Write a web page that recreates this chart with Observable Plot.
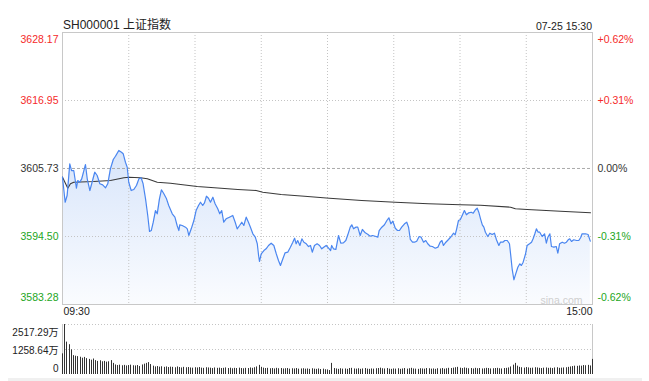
<!DOCTYPE html>
<html><head><meta charset="utf-8">
<script src="https://cdn.jsdelivr.net/npm/d3@7"></script>
<script src="https://cdn.jsdelivr.net/npm/@observablehq/plot@0.6"></script>
<style>
body{margin:0;background:#fff;}
#wrap{position:relative;width:649px;height:381px;overflow:hidden;font-family:"Liberation Sans",Arial,"Noto Sans CJK SC",sans-serif;}
.t{position:absolute;white-space:nowrap;color:#222;line-height:1;}
#main,#vol{position:absolute;left:0;}
#main{top:0;}
#vol{top:316px;}
#band{position:absolute;left:8px;top:378px;width:634px;height:3px;background:#f0f0f0;}
</style></head><body><div id="wrap"><div id="main"></div><div id="vol"></div><div id="band"></div></div>
<script>
const title = "SH000001 上证指数";
const stamp = "07-25 15:30";
const prevClose = 3605.73;
const leftTicks = [3628.17, 3616.95, 3605.73, 3594.50, 3583.28];
const rightTicks = ["+0.62%", "+0.31%", "0.00%", "-0.31%", "-0.62%"];
const timeLabels = ["09:30", "15:00"];
const volTicks = [2517.29, 1258.64, 0];
const volTickLabels = ["2517.29万", "1258.64万", "0"];
const halfHours = [30, 60, 90, 120, 150, 180, 210];

const priceMin = [
0,1.2,2.1,3.3,4.1,5.1,6.3,6.9,7.8,8.7,
10.4,11.2,12.4,13.4,14.6,15.7,16.9,18.2,19.5,20.5,
21.7,23.0,24.0,25.5,26.7,27.5,28.5,29.3,30.0,31.1,
32.3,33.5,34.6,35.6,36.5,37.6,38.6,39.4,40.2,41.1,
42.1,42.9,43.9,44.8,45.9,47.1,48.1,49.7,50.9,51.9,
52.7,53.1,54.2,55.7,56.5,57.2,58.3,59.5,60.5,61.6,
62.5,63.5,64.3,65.2,66.1,67.0,68.1,69.1,70.3,71.2,
72.1,73.0,74.1,75.6,77.1,78.2,79.1,80.2,81.2,82.1,
83.2,84.2,85.1,86.2,87.3,88.2,88.8,89.2,90.0,91.2,
92.2,93.3,94.5,95.7,96.8,97.8,98.7,99.8,100.8,102.0,
103.2,104.3,105.1,105.8,106.5,107.5,108.4,109.3,110.4,111.4,
112.3,113.1,114.1,115.3,116.4,117.4,118.3,119.4,120.5,121.4,
121.9,122.7,123.8,125.0,126.0,127.2,128.3,129.2,130.3,131.0,
131.8,132.8,133.7,134.8,135.8,137.1,138.2,139.3,140.4,141.6,
142.8,143.4,144.6,145.8,146.9,147.8,148.7,149.6,150.7,151.7,
152.6,153.6,154.9,155.9,156.7,157.5,158.5,159.4,160.4,161.5,
162.4,163.5,164.5,165.4,166.5,167.5,168.8,170.0,171.0,171.8,
172.5,173.6,174.8,176.0,177.1,177.8,178.5,179.3,180.1,181.0,
182.0,182.9,184.0,185.1,186.0,187.0,187.8,188.5,189.3,190.1,
190.8,191.5,192.6,193.5,194.6,195.6,196.5,197.6,198.3,199.4,
200.3,201.4,202.4,202.9,203.6,204.4,205.1,206.2,207.1,207.8,
208.6,209.7,210.4,211.5,212.4,213.1,213.9,214.6,215.4,216.1,
217.2,218.3,219.1,219.8,220.7,221.4,222.5,223.6,224.3,225.1,
226.3,227.3,228.2,229.0,229.7,230.5,231.5,232.8,233.8,234.6,
235.3,236.8,238.0,239.0];

const price = [
3604.29,3600.16,3601.27,3606.50,3605.39,3605.39,3602.47,3603.74,3603.46,3604.02,
3606.38,3604.02,3602.09,3603.46,3605.11,3604.57,3603.20,3603.03,3602.54,3603.20,
3605.67,3607.21,3607.75,3608.70,3608.41,3608.15,3606.76,3605.94,3603.46,3602.09,
3602.26,3602.92,3604.02,3604.19,3603.20,3600.72,3597.97,3595.33,3595.49,3596.86,
3598.79,3598.25,3600.72,3602.21,3601.55,3600.72,3599.62,3598.25,3597.69,3596.32,
3595.49,3596.43,3596.32,3596.04,3595.77,3594.67,3595.77,3597.14,3598.79,3599.62,
3600.16,3599.62,3600.06,3601.15,3600.82,3600.16,3600.99,3599.90,3599.07,3598.25,
3598.79,3596.86,3597.42,3597.69,3597.97,3596.86,3595.77,3596.32,3596.86,3596.32,
3597.69,3596.86,3596.04,3594.95,3594.39,3593.30,3591.37,3590.38,3591.65,3592.19,
3592.47,3593.02,3593.40,3593.02,3591.65,3590.54,3589.72,3590.82,3591.81,3591.91,
3592.74,3593.56,3594.22,3593.30,3593.84,3593.02,3594.12,3593.56,3593.30,3592.85,
3593.02,3591.91,3593.02,3593.30,3593.02,3592.47,3592.74,3593.02,3592.57,3592.19,
3593.02,3592.47,3592.36,3594.67,3593.40,3593.46,3593.84,3594.78,3596.04,3596.43,
3595.77,3596.04,3596.04,3594.67,3595.66,3595.11,3594.88,3594.55,3594.67,3594.55,
3594.39,3595.49,3596.04,3596.43,3597.14,3597.59,3596.60,3597.03,3595.87,3595.49,
3595.49,3596.04,3596.60,3596.86,3596.04,3594.01,3593.56,3593.56,3593.73,3594.50,
3594.39,3593.56,3593.84,3593.30,3592.90,3592.85,3592.57,3592.74,3593.56,3593.84,
3593.02,3593.56,3594.01,3594.50,3595.05,3594.78,3595.77,3597.14,3597.26,3597.97,
3598.79,3598.08,3598.41,3598.51,3598.35,3598.91,3599.17,3598.51,3597.42,3596.43,
3596.04,3595.21,3594.50,3595.05,3594.83,3595.05,3593.96,3593.02,3593.56,3593.56,
3593.84,3593.84,3593.30,3591.65,3589.17,3587.36,3588.18,3589.43,3590.00,3589.72,
3590.26,3591.65,3593.02,3593.30,3593.56,3594.12,3594.95,3595.77,3595.21,3595.21,
3594.50,3594.95,3593.40,3594.39,3594.95,3592.85,3592.74,3592.85,3591.74,3593.30,
3593.56,3593.40,3593.56,3593.96,3594.12,3593.68,3593.96,3593.84,3593.84,3594.29,
3594.95,3594.95,3594.83,3593.73];

const avgMin = [0,2.4,3.6,5.1,14.2,21.7,27.8,30.0,35.3,38.4,42.9,48.9,61.0,68.8,79.4,87.7,90.7,99.0,109.6,120.9,135.5,150.7,165.7,180.2,189.3,202.9,205.1,210.4,225.5,239.1];
const avgPrice = [3604.29,3602.47,3603.20,3603.46,3603.58,3603.74,3604.19,3604.29,3604.19,3604.02,3603.46,3603.30,3602.75,3602.54,3602.26,3602.09,3601.81,3601.43,3601.15,3600.82,3600.44,3600.16,3599.90,3599.73,3599.67,3599.34,3599.07,3598.96,3598.68,3598.41];

// volume per minute (万), minute 0..240
const volume = [
1040,2517.29,1630,1500,1240,950,920,900,870,820,
860,800,760,720,780,700,660,690,640,660,
620,640,700,560,480,450,470,440,460,430,
450,470,440,430,450,400,480,520,560,600,
500,420,380,400,370,390,360,380,350,370,
360,340,380,350,330,360,340,350,330,320,
340,330,350,320,310,340,330,320,300,330,
310,320,300,310,330,300,320,290,310,300,
320,300,290,310,300,330,310,340,380,460,
360,320,300,310,290,300,280,310,290,300,
280,290,300,270,290,280,300,270,280,290,
270,280,260,290,270,260,280,250,270,240,
230,200,560,300,280,260,290,270,280,260,
300,310,280,270,290,260,280,300,270,260,
280,270,290,300,320,290,280,300,270,260,
280,270,290,260,280,300,270,290,310,280,
270,260,290,280,270,300,290,270,280,260,
290,280,300,270,290,310,300,320,340,360,
320,300,330,310,290,300,280,310,290,300,
280,290,310,300,280,290,300,310,290,280,
300,310,330,380,470,560,420,360,340,320,
350,330,310,320,340,330,310,300,320,330,
310,320,300,330,340,310,320,330,340,360,
380,400,420,410,430,420,450,440,460,430,
760];

const FONT = '"Liberation Sans", Arial, "Noto Sans CJK SC", sans-serif';
const RED = "#f52a2a", GREEN = "#23a623", DARK = "#333";
const tone = v => v > prevClose + 1e-6 ? RED : v < prevClose - 1e-6 ? GREEN : DARK;

const priceData = priceMin.map((m, i) => ({m, v: price[i]}));
const avgData = avgMin.map((m, i) => ({m, v: avgPrice[i]}));
const volData = volume.map((v, m) => ({m, v}));
const rows = leftTicks.map((v, i) => ({v, left: v.toFixed(2), right: rightTicks[i], c: tone(v), i}));
const yDom = [leftTicks[4], leftTicks[0]];

const gradient = () => {
  const defs = d3.create("svg:defs");
  const g = defs.append("linearGradient").attr("id", "pg").attr("x1", 0).attr("x2", 0).attr("y1", 0).attr("y2", 1);
  g.append("stop").attr("offset", "0%").attr("stop-color", "#3d7fea").attr("stop-opacity", 0.2);
  g.append("stop").attr("offset", "100%").attr("stop-color", "#3d7fea").attr("stop-opacity", 0.025);
  return defs.node();
};

const labelStyle = {fontSize: 10.5, fontFamily: FONT};

const main = Plot.plot({
  width: 649, height: 320,
  marginLeft: 62, marginRight: 57, marginTop: 32, marginBottom: 16,
  style: {background: "transparent", fontFamily: FONT, overflow: "visible"},
  x: {domain: [0, 240], axis: null},
  y: {domain: yDom, axis: null},
  marks: [
    gradient,
    Plot.areaY(priceData, {x: "m", y1: yDom[0], y2: "v", fill: "url(#pg)"}),
    Plot.ruleX(halfHours, {stroke: "#c4c4c4", strokeDasharray: "1,2"}),
    Plot.ruleY([leftTicks[1], leftTicks[3]], {stroke: "#c4c4c4", strokeDasharray: "1,2"}),
    Plot.ruleY([leftTicks[2]], {stroke: "#aaa", strokeDasharray: "3,2"}),
    Plot.frame({stroke: "#c8c8c8"}),
    Plot.line(avgData, {x: "m", y: "v", stroke: "#3a3a3a", strokeWidth: 1.1}),
    Plot.line(priceData, {x: "m", y: "v", stroke: "#4a86f0", strokeWidth: 1.2}),
    Plot.text(rows.filter(d => d.i === 0), {y: "v", text: "left", fill: "c", frameAnchor: "left", textAnchor: "end", dx: -4, dy: 7, ...labelStyle}),
    Plot.text(rows.filter(d => d.i > 0 && d.i < 4), {y: "v", text: "left", fill: "c", frameAnchor: "left", textAnchor: "end", dx: -4, ...labelStyle}),
    Plot.text(rows.filter(d => d.i === 4), {y: "v", text: "left", fill: "c", frameAnchor: "left", textAnchor: "end", dx: -4, dy: -7, ...labelStyle}),
    Plot.text(rows.filter(d => d.i === 0), {y: "v", text: "right", fill: "c", frameAnchor: "right", textAnchor: "start", dx: 5, dy: 7, ...labelStyle}),
    Plot.text(rows.filter(d => d.i > 0 && d.i < 4), {y: "v", text: "right", fill: "c", frameAnchor: "right", textAnchor: "start", dx: 5, ...labelStyle}),
    Plot.text(rows.filter(d => d.i === 4), {y: "v", text: "right", fill: "c", frameAnchor: "right", textAnchor: "start", dx: 5, dy: -7, ...labelStyle}),
    Plot.text([{m: 0, t: timeLabels[0]}], {x: "m", text: "t", frameAnchor: "bottom", lineAnchor: "top", textAnchor: "start", dx: 1, dy: 3, fill: "#222", ...labelStyle}),
    Plot.text([{m: 240, t: timeLabels[1]}], {x: "m", text: "t", frameAnchor: "bottom", lineAnchor: "top", textAnchor: "end", dy: 3, fill: "#222", ...labelStyle}),
    Plot.text(["sina.com"], {text: d => d, frameAnchor: "bottom-right", textAnchor: "end", lineAnchor: "bottom", dx: -10, dy: -1, fill: "#cfcfcf", fontSize: 10.5, fontFamily: FONT})
  ]
});
document.getElementById("main").appendChild(main);

const vol = Plot.plot({
  width: 649, height: 65,
  marginLeft: 62, marginRight: 57, marginTop: 8, marginBottom: 7,
  style: {background: "transparent", fontFamily: FONT, overflow: "visible"},
  x: {domain: [0, 240], axis: null, round: true},
  y: {domain: [0, volTicks[0]], axis: null},
  marks: [
    Plot.ruleY(volTicks.slice(0, 2), {stroke: "#c4c4c4", strokeDasharray: "1,2"}),
    Plot.ruleX([0, 240], {stroke: "#c8c8c8"}),
    Plot.ruleX(volData, {x: "m", y1: 0, y2: "v", stroke: "#333", strokeWidth: 1}),
    Plot.text([{v: volTicks[0], t: volTickLabels[0]}], {y: "v", text: "t", frameAnchor: "left", textAnchor: "end", dx: -4, dy: 8, fill: "#222", fontSize: 10, fontFamily: FONT}),
    Plot.text([{v: volTicks[1], t: volTickLabels[1]}], {y: "v", text: "t", frameAnchor: "left", textAnchor: "end", dx: -4, dy: 1, fill: "#222", fontSize: 10, fontFamily: FONT}),
    Plot.text([{v: volTicks[2], t: volTickLabels[2]}], {y: "v", text: "t", frameAnchor: "left", textAnchor: "end", dx: -4, dy: -6, fill: "#222", fontSize: 10, fontFamily: FONT})
  ]
});
document.getElementById("vol").appendChild(vol);

const wrap = document.getElementById("wrap");
const t1 = document.createElement("div");
t1.className = "t"; t1.textContent = title;
t1.style.cssText = "left:63px;top:19px;font-size:12px;";
wrap.appendChild(t1);
const t2 = document.createElement("div");
t2.className = "t"; t2.textContent = stamp;
t2.style.cssText = "right:57px;top:21px;font-size:10.5px;";
wrap.appendChild(t2);
</script></body></html>
